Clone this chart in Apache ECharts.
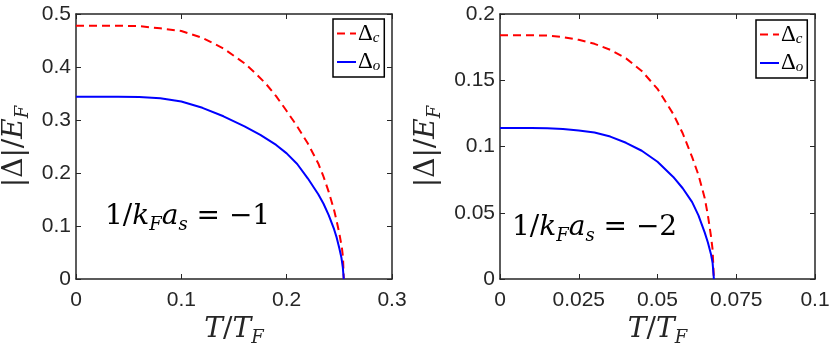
<!DOCTYPE html>
<html>
<head>
<meta charset="utf-8">
<script src="https://cdn.jsdelivr.net/npm/echarts@6/dist/echarts.min.js"></script>
<style>
  html, body { margin: 0; padding: 0; background: #fff; }
  #chart { width: 831px; height: 343px; }
</style>
</head>
<body>
<div id="chart"></div>
<script>
// left panel, 1/kFas = -1
var leftTc = [0, 0.02, 0.04, 0.06, 0.08, 0.10, 0.12, 0.14, 0.16, 0.17, 0.18, 0.19, 0.20, 0.21, 0.22, 0.23, 0.235, 0.24, 0.245, 0.2475, 0.25, 0.2525, 0.2535, 0.2542]
var leftDc = [0.478, 0.478, 0.478, 0.477, 0.473, 0.468, 0.455, 0.435, 0.407, 0.389, 0.369, 0.345, 0.317, 0.288, 0.256, 0.218, 0.193, 0.164, 0.130, 0.109, 0.086, 0.058, 0.040, 0]
var leftTo = [0, 0.02, 0.04, 0.06, 0.08, 0.10, 0.12, 0.14, 0.16, 0.175, 0.19, 0.20, 0.21, 0.22, 0.23, 0.235, 0.24, 0.245, 0.2475, 0.25, 0.252, 0.2533, 0.2542]
var leftDo = [0.344, 0.344, 0.344, 0.3435, 0.341, 0.335, 0.323, 0.307, 0.288, 0.272, 0.253, 0.237, 0.217, 0.190, 0.160, 0.142, 0.120, 0.094, 0.078, 0.058, 0.040, 0.022, 0]

// right panel, 1/kFas = -2
var rightTc = [0, 0.005, 0.01, 0.015, 0.02, 0.025, 0.03, 0.035, 0.04, 0.045, 0.05, 0.055, 0.058, 0.061, 0.063, 0.065, 0.066, 0.067, 0.0675, 0.0679]
var rightDc = [0.184, 0.184, 0.184, 0.1837, 0.1826, 0.1805, 0.1775, 0.173, 0.1665, 0.157, 0.1435, 0.1245, 0.110, 0.092, 0.0785, 0.061, 0.048, 0.032, 0.022, 0]
var rightTo = [0, 0.01, 0.015, 0.02, 0.025, 0.03, 0.035, 0.04, 0.045, 0.05, 0.055, 0.058, 0.061, 0.063, 0.065, 0.066, 0.067, 0.0675, 0.0679]
var rightDo = [0.114, 0.114, 0.1138, 0.1132, 0.112, 0.1105, 0.1075, 0.1028, 0.0968, 0.0885, 0.077, 0.0685, 0.058, 0.048, 0.035, 0.0275, 0.0185, 0.012, 0]

var leftXTicks = { min: 0, max: 0.3, interval: 0.1 }
var leftYTicks = { min: 0, max: 0.5, interval: 0.1 }
var rightXTicks = { min: 0, max: 0.1, interval: 0.025 }
var rightYTicks = { min: 0, max: 0.2, interval: 0.05 }

function pairs(xs, ys) {
  return xs.map((x, i) => [x, ys[i]])
}

var axisColor = '#262626'
var labelFont = { color: axisColor, fontSize: 21, fontFamily: 'Liberation Sans' }
var mathRich = {
  r: { fontFamily: 'DejaVu Serif', fontSize: 28, color: axisColor, lineHeight: 34 },
  i: { fontFamily: 'DejaVu Serif', fontStyle: 'italic', fontSize: 28, color: axisColor, lineHeight: 34 },
  s: { fontFamily: 'DejaVu Serif', fontStyle: 'italic', fontSize: 18, color: axisColor, lineHeight: 30, verticalAlign: 'bottom' }
}

function mainX(grid, t) {
  return {
    type: 'value', gridIndex: grid, position: 'bottom',
    min: t.min, max: t.max, interval: t.interval,
    axisLine: { show: true, onZero: false, lineStyle: { color: axisColor, width: 1.5 } },
    axisTick: { inside: true, length: 5, lineStyle: { color: axisColor } },
    axisLabel: Object.assign({ margin: 11 }, labelFont),
    splitLine: { show: false },
    name: '{i|T}{r|/}{i|T}{s|F}', nameLocation: 'middle', nameGap: 30,
    nameTextStyle: { rich: mathRich }
  }
}
function mainY(grid, t, gap) {
  return {
    type: 'value', gridIndex: grid, position: 'left',
    min: t.min, max: t.max, interval: t.interval,
    axisLine: { show: true, onZero: false, lineStyle: { color: axisColor, width: 1.5 } },
    axisTick: { inside: true, length: 5, lineStyle: { color: axisColor } },
    axisLabel: Object.assign({ margin: 5 }, labelFont),
    splitLine: { show: false },
    name: '{r||Δ|/}{i|E}{s|F}', nameLocation: 'middle', nameGap: gap, nameRotate: 90,
    nameTextStyle: { rich: mathRich }
  }
}
function mirror(grid, t, pos) {
  return {
    type: 'value', gridIndex: grid, position: pos,
    min: t.min, max: t.max, interval: t.interval,
    axisLine: { show: true, onZero: false, lineStyle: { color: axisColor, width: 1.5 } },
    axisTick: { inside: true, length: 5, lineStyle: { color: axisColor } },
    axisLabel: { show: false },
    splitLine: { show: false }
  }
}

function legendAt(left, top) {
  return {
    left: left, top: top, orient: 'vertical',
    data: ['Δc', 'Δo'],
    backgroundColor: '#fff', borderColor: '#000', borderWidth: 1.5,
    padding: [3, 4, 3, 3], itemGap: 5, itemWidth: 19, itemHeight: 14,
    itemStyle: { opacity: 0 },
    formatter: n => '{d|Δ}{s|' + n.slice(1) + '}',
    textStyle: {
      padding: [0, 0, 0, -3],
      rich: {
        d: { fontFamily: 'Liberation Serif', fontSize: 23, color: '#000', lineHeight: 24 },
        s: { fontFamily: 'Liberation Serif', fontStyle: 'italic', fontSize: 15, color: '#000', lineHeight: 22, verticalAlign: 'bottom' }
      }
    }
  }
}

function line(name, xi, data, color, type) {
  return {
    name: name, type: 'line', xAxisIndex: xi, yAxisIndex: xi,
    data: data, showSymbol: false, symbol: 'none', smooth: false,
    lineStyle: { color: color, width: 2, type: type },
    itemStyle: { color: color }
  }
}

var myChart = echarts.init(document.getElementById('chart'), null, { renderer: 'canvas' })
myChart.setOption({
  animation: false,
  backgroundColor: '#fff',
  grid: [
    { left: 76, top: 14, width: 316, height: 265, outerBoundsMode: 'none', containLabel: false },
    { left: 500, top: 14, width: 315, height: 265, outerBoundsMode: 'none', containLabel: false }
  ],
  xAxis: [
    mainX(0, leftXTicks), mainX(1, rightXTicks),
    mirror(0, leftXTicks, 'top'), mirror(1, rightXTicks, 'top')
  ],
  yAxis: [
    mainY(0, leftYTicks, 44), mainY(1, rightYTicks, 56),
    mirror(0, leftYTicks, 'right'), mirror(1, rightYTicks, 'right')
  ],
  legend: [legendAt(333, 19), legendAt(756, 20)],
  series: [
    line('Δc', 0, pairs(leftTc, leftDc), '#ff0000', [8, 5]),
    line('Δo', 0, pairs(leftTo, leftDo), '#0000ff', 'solid'),
    line('Δc', 1, pairs(rightTc, rightDc), '#ff0000', [8, 5]),
    line('Δo', 1, pairs(rightTo, rightDo), '#0000ff', 'solid')
  ],
  graphic: [
    { type: 'text', left: 105, top: 203, style: { text: '{r|1/}{i|k}{s|F}{i|a}{s|s}{r| = −1}', rich: mathRich } },
    { type: 'text', left: 512, top: 214, style: { text: '{r|1/}{i|k}{s|F}{i|a}{s|s}{r| = −2}', rich: mathRich } }
  ]
})
</script>
</body>
</html>
